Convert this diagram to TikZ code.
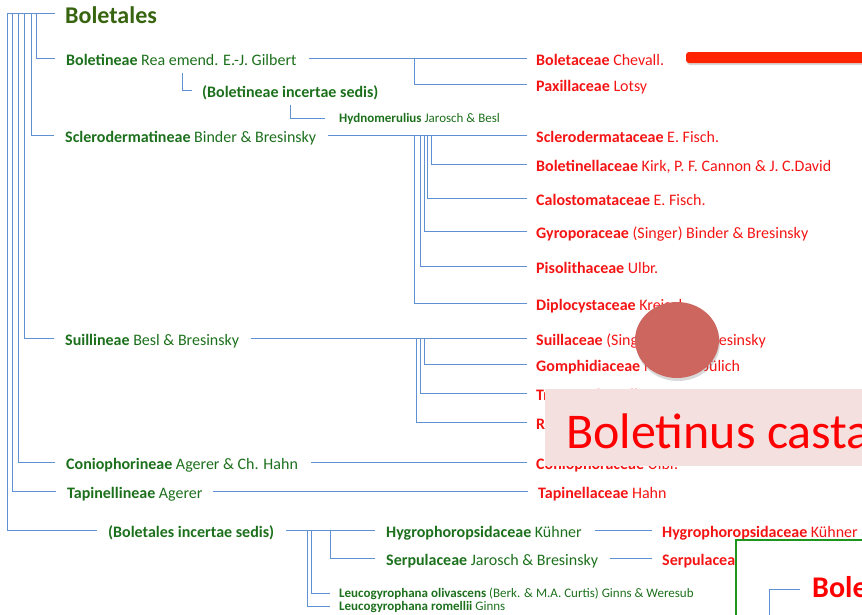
\documentclass[tikz,border=0pt]{standalone}
\usepackage{fontspec}
\setmainfont{Carlito}
\usetikzlibrary{shadows}
\definecolor{titlegreen}{RGB}{55,100,15}
\definecolor{labgreen}{RGB}{28,112,28}
\definecolor{famred}{RGB}{245,20,20}
\definecolor{lineblue}{RGB}{95,145,210}
\definecolor{barred}{RGB}{255,35,0}
\definecolor{dotred}{RGB}{205,102,95}
\definecolor{pinkbg}{RGB}{244,224,223}
\definecolor{boxgreen}{RGB}{30,150,30}

\begin{document}
\begin{tikzpicture}[x=1pt,y=-1pt,
  br/.style={draw=lineblue,line width=0.9pt},
  sub/.style={anchor=west,inner sep=0pt,text height=14pt,text depth=0pt,text=labgreen,font=\fontsize{16}{18}\selectfont},
  fam/.style={sub,text=famred},
  tiny/.style={anchor=west,inner sep=0pt,text height=8pt,text depth=0pt,text=labgreen,font=\fontsize{13}{15}\selectfont}]
\useasboundingbox (0,0) rectangle (862,614);

\node[anchor=west,inner sep=0pt,text height=20pt,text depth=0pt,text=titlegreen,font=\bfseries\fontsize{24}{28}\selectfont] (ord) at (65,13) {Boletales};

\node[sub] (bolne) at (66,58) {\textbf{Boletineae} Rea emend. E.-J. Gilbert};
\node[sub] (bolis) at (202,90) {\textbf{(Boletineae incertae sedis)}};
\node[tiny] (hydno) at (339,118) {\textbf{Hydnomerulius} Jarosch \& Besl};
\node[sub] (scl) at (65,135) {\textbf{Sclerodermatineae} Binder \& Bresinsky};
\node[sub] (sui) at (65,338) {\textbf{Suillineae} Besl \& Bresinsky};
\node[sub] (con) at (66,462) {\textbf{Coniophorineae} Agerer \& Ch. Hahn};
\node[sub] (tap) at (67,491) {\textbf{Tapinellineae} Agerer};
\node[sub] (inc) at (108,530) {\textbf{(Boletales incertae sedis)}};
\node[sub] (hygro) at (386,530) {\textbf{Hygrophoropsidaceae} Kühner};
\node[sub] (serp) at (386,558) {\textbf{Serpulaceae} Jarosch \& Bresinsky};
\node[tiny] (leuA) at (339,593) {\textbf{Leucogyrophana olivascens} (Berk. \& M.A. Curtis) Ginns \& Weresub};
\node[tiny] (leuB) at (339,606) {\textbf{Leucogyrophana romellii} Ginns};

\node[fam] (boletac) at (536,58) {\textbf{Boletaceae} Chevall.};
\node[fam] (paxil) at (536,84) {\textbf{Paxillaceae} Lotsy};
\node[fam] (sclfam) at (536,135) {\textbf{Sclerodermataceae} E. Fisch.};
\node[fam] (bnell) at (536,164) {\textbf{Boletinellaceae} Kirk, P. F. Cannon \& J. C.David};
\node[fam] (calo) at (536,198) {\textbf{Calostomataceae} E. Fisch.};
\node[fam] (gyro) at (536,231) {\textbf{Gyroporaceae} (Singer) Binder \& Bresinsky};
\node[fam] (piso) at (536,266) {\textbf{Pisolithaceae} Ulbr.};
\node[fam] (diplo) at (536,303) {\textbf{Diplocystaceae} Kreisel};
\node[fam] (suil) at (536,338) {\textbf{Suillaceae} (Singer) Besl \& Bresinsky};
\node[fam] (gomph) at (536,364) {\textbf{Gomphidiaceae} Maire ex Jülich};
\node[fam] (trunc) at (536,393) {\textbf{Truncocolumellaceae} Agerer};
\node[fam] (rhizo) at (536,422) {\textbf{Rhizopogonaceae} Gäum. \& C.W. Dodge};
\node[fam] (conif) at (536,462) {\textbf{Coniophoraceae} Ulbr.};
\node[fam] (tapif) at (538,491) {\textbf{Tapinellaceae} Hahn};
\node[fam] (hygrof) at (662,530) {\textbf{Hygrophoropsidaceae} Kühner};
\node[fam] (serpf) at (662,558) {\textbf{Serpulaceae} Jarosch \& Bresinsky};

\draw[br] (ord.west -| 7,0) -- ([xshift=-10pt]ord.west);
\foreach \x/\n in {36/bolne,31/scl,24/sui,18/con,12/tap,7/inc}
  \draw[br] (ord.west -| \x,0) |- ([xshift=-11pt]\n.west);

\draw[br] ([xshift=12pt]bolne.east) -- ([xshift=-9pt]boletac.west);
\draw[br] (bolne.east -| 414,0) |- ([xshift=-9pt]paxil.west);
\coordinate (bisTop) at (182,73);
\draw[br] (bisTop) |- ([xshift=-10pt]bolis.west);
\coordinate (hydTop) at (290,105);
\draw[br] (hydTop) |- ([xshift=-14pt]hydno.west);

\draw[br] ([xshift=12pt]scl.east) -- ([xshift=-9pt]sclfam.west);
\foreach \x/\n in {431/bnell,427/calo,424/gyro,420/piso,414/diplo}
  \draw[br] (scl.east -| \x,0) |- ([xshift=-9pt]\n.west);

\draw[br] ([xshift=12pt]sui.east) -- ([xshift=-9pt]suil.west);
\foreach \x/\n in {424/gomph,420/trunc,416/rhizo}
  \draw[br] (sui.east -| \x,0) |- ([xshift=-9pt]\n.west);

\draw[br] ([xshift=13pt]con.east) -- ([xshift=-9pt]conif.west);
\draw[br] ([xshift=10pt]tap.east) -- ([xshift=-10pt]tapif.west);

\draw[br] ([xshift=12pt]inc.east) -- ([xshift=-11pt]hygro.west);
\draw[br] (inc.east -| 330,0) |- ([xshift=-11pt]serp.west);
\draw[br] (inc.east -| 311,0) |- ([xshift=-9pt]leuA.west);
\draw[br] (inc.east -| 307,0) |- ([xshift=-9pt]leuB.west);
\draw[br] ([xshift=13pt]hygro.east) -- ([xshift=-10pt]hygrof.west);
\draw[br] ([xshift=12pt]serp.east) -- ([xshift=-10pt]serpf.west);

\fill[barred,rounded corners=3pt,drop shadow={shadow xshift=1pt,shadow yshift=-2pt,opacity=0.3}] (686,52) rectangle (880,63);
\fill[dotred,drop shadow={shadow xshift=1pt,shadow yshift=-3pt,opacity=0.3}] (677,340) ellipse [x radius=42pt,y radius=38pt];

\begin{scope}
\clip (0,0) rectangle (862,614);
\fill[pinkbg] (545,389) rectangle (880,466);
\node[anchor=base west,inner sep=0pt,text=red,font=\fontsize{50}{56}\selectfont] (cap) at (566,448) {Boletinus castanellus};
\draw[boxgreen,line width=2pt,fill=white] (736,540) rectangle (890,640);
\node[anchor=west,inner sep=0pt,text height=17pt,text depth=0pt,text=red,font=\bfseries\fontsize{30}{34}\selectfont] (bole) at (812,589) {Boletales};
\coordinate (boxBot) at (769,620);
\draw[br] (boxBot) |- ([xshift=-12pt]bole.west);
\end{scope}
\end{tikzpicture}
\end{document}
